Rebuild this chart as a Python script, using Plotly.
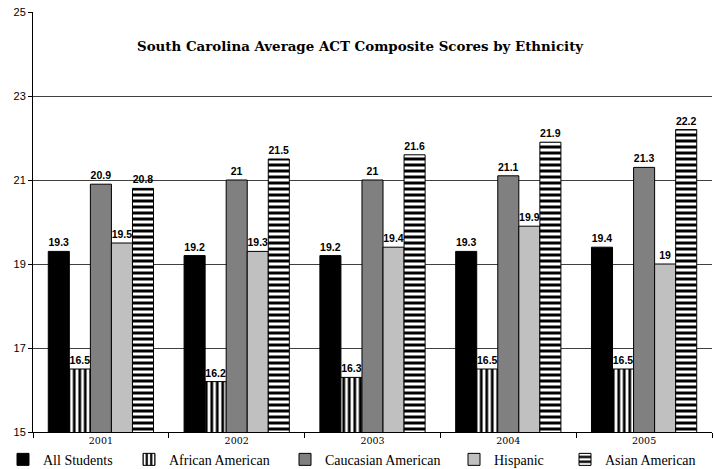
import plotly.graph_objects as go

years = ["2001", "2002", "2003", "2004", "2005"]
series_names = ["All Students", "African American", "Caucasian American", "Hispanic", "Asian American"]
all_students = [19.3, 19.2, 19.2, 19.3, 19.4]
african_american = [16.5, 16.2, 16.3, 16.5, 16.5]
caucasian_american = [20.9, 21, 21, 21.1, 21.3]
hispanic = [19.5, 19.3, 19.4, 19.9, 19]
asian_american = [20.8, 21.5, 21.6, 21.9, 22.2]
y_ticks = [15, 17, 19, 21, 23, 25]

values = [all_students, african_american, caucasian_american, hispanic, asian_american]
styles = [
    dict(color="#000000"),
    dict(color="#ffffff", pattern=dict(shape="|", fgcolor="#000000", bgcolor="#ffffff", fgopacity=1,
                                       size=5.5, solidity=0.5, fillmode="replace")),
    dict(color="#808080"),
    dict(color="#c0c0c0"),
    dict(color="#ffffff", pattern=dict(shape="-", fgcolor="#000000", bgcolor="#ffffff", fgopacity=1,
                                       size=6, solidity=0.5, fillmode="replace")),
]

L, R, T, B = 33, 2, 12, 37
W, H = 714, 469
pw = W - L - R

# legend text start positions in pixels
legend_text_px = [45, 171, 327, 496, 607]
legend_names = ["legend", "legend2", "legend3", "legend4", "legend5"]

fig = go.Figure()
for name, vals, st, lg in zip(series_names, values, styles, legend_names):
    marker = dict(line=dict(color="#000000", width=1), **st)
    fig.add_trace(go.Bar(
        x=years, y=vals, name=name, marker=marker, legend=lg,
        text=[f"{v:g}" for v in vals], textposition="outside",
        textfont=dict(family="Liberation Sans", size=10.5, color="#000000", weight="bold"),
        cliponaxis=False,
    ))

legend_font = dict(family="Liberation Serif", size=14, color="#000000")
layout_legends = {}
for lg, tx in zip(legend_names, legend_text_px):
    layout_legends[lg] = dict(
        orientation="h", x=(tx - 42 - L) / pw, xanchor="left",
        y=-0.028, yanchor="top", font=legend_font, bgcolor="rgba(0,0,0,0)",
        borderwidth=0, itemwidth=30,
    )

fig.update_layout(
    width=W, height=H,
    margin=dict(l=L, r=R, t=T, b=B, autoexpand=False),
    paper_bgcolor="#ffffff", plot_bgcolor="#ffffff",
    barmode="group", bargap=0.225, bargroupgap=0,
    showlegend=True,
    xaxis=dict(type="category", showline=True, linecolor="#000000", linewidth=1,
               ticks="outside", tickson="boundaries", ticklen=5, tickcolor="#000000",
               tickfont=dict(family="DejaVu Serif", size=9.5, color="#000000"),
               showgrid=False, automargin=False),
    yaxis=dict(range=[15, 25], tickvals=y_ticks, showline=True, linecolor="#000000", linewidth=1,
               ticks="outside", ticklen=4, tickcolor="#000000",
               tickfont=dict(family="Liberation Sans", size=11, color="#000000"),
               showgrid=True, gridcolor="#404040", gridwidth=1, zeroline=False, automargin=False),
    annotations=[dict(
        text="<b>South Carolina Average ACT Composite Scores by Ethnicity</b>",
        xref="paper", yref="paper", x=(360 - L) / pw, y=(H - B - 46) / (H - T - B),
        xanchor="center", yanchor="middle",
        showarrow=False, font=dict(family="DejaVu Serif", size=13.4, color="#000000"),
    )],
    **layout_legends,
)

fig.write_html(
    "out.html",
    config={"displayModeBar": False},
    post_script="document.body.style.margin='0';document.body.style.padding='0';document.body.style.overflow='hidden';",
)
